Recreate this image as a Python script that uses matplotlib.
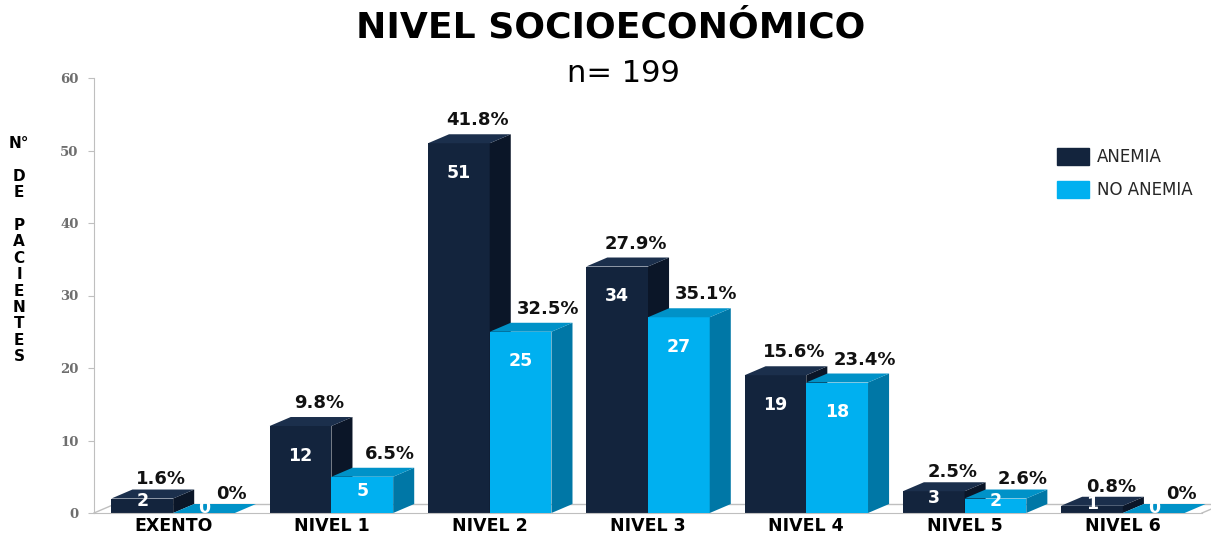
import matplotlib.pyplot as plt
from matplotlib.patches import Polygon, Patch

categorias = ["EXENTO", "NIVEL 1", "NIVEL 2", "NIVEL 3", "NIVEL 4", "NIVEL 5", "NIVEL 6"]
anemia = [2, 12, 51, 34, 19, 3, 1]
no_anemia = [0, 5, 25, 27, 18, 2, 0]
pct_anemia = ["1.6%", "9.8%", "41.8%", "27.9%", "15.6%", "2.5%", "0.8%"]
pct_no_anemia = ["0%", "6.5%", "32.5%", "35.1%", "23.4%", "2.6%", "0%"]

# colores: frente, lado, techo
col_anemia = ("#13243d", "#0b1628", "#1b2f4c")
col_no_anemia = ("#00b0f0", "#0077a6", "#0092c8")

W = 0.39      # ancho de cada barra
DX = 0.133    # profundidad en x (unidades de datos)
DY = 1.24     # profundidad en y

fig = plt.figure(figsize=(12.11, 5.37), dpi=100)
ax = fig.add_axes([94 / 1211, 24 / 537, 1108 / 1211, 435 / 537])


def barra_3d(x0, h, cols, z):
    ax.bar(x0, h, width=W, align="edge", color=cols[0], zorder=z, linewidth=0)
    lado = [(x0 + W, 0), (x0 + W + DX, DY), (x0 + W + DX, h + DY), (x0 + W, h)]
    techo = [(x0, h), (x0 + W, h), (x0 + W + DX, h + DY), (x0 + DX, h + DY)]
    ax.add_patch(Polygon(lado, closed=True, color=cols[1], zorder=z, lw=0, clip_on=False))
    ax.add_patch(Polygon(techo, closed=True, color=cols[2], zorder=z, lw=0, clip_on=False))


def etiquetas(x0, v, pct, desp):
    yv = v - 4.1 if v >= 8 else v * 0.45 + 0.75
    yp = v + DY + 1.9 if v >= 5 else v + DY + 1.4
    ax.text(x0 + W / 2, yv, str(v), color="white", fontsize=12.5, fontweight="bold",
            ha="center", va="center", zorder=10)
    ax.text(x0 + W / 2 + desp, yp, pct, color="#111111", fontsize=13,
            fontweight="bold", ha="center", va="center", zorder=10)


# piso de la grafica
gris = "#bfbfbf"
ax.plot([-0.5, -0.5 + DX], [0, DY], color=gris, lw=1, zorder=1, clip_on=False)
ax.plot([-0.5 + DX, 6.5 + DX], [DY, DY], color=gris, lw=1, zorder=1, clip_on=False)
ax.plot([6.5, 6.5 + DX], [0, DY], color=gris, lw=1, zorder=1, clip_on=False)

for i in range(len(categorias)):
    barra_3d(i - W, anemia[i], col_anemia, 2)
    barra_3d(i, no_anemia[i], col_no_anemia, 3)
    etiquetas(i - W, anemia[i], pct_anemia[i], DX * 0.9)
    etiquetas(i, no_anemia[i], pct_no_anemia[i], DX * 1.3)

ax.set_xlim(-0.5, 6.5)
ax.set_ylim(0, 60)
ax.set_yticks(range(0, 61, 10))
ax.set_xticks(range(len(categorias)))
ax.set_xticklabels(categorias, fontsize=12.5, fontweight="bold")
ax.tick_params(axis="x", length=0, pad=3)
ax.tick_params(axis="y", length=4, color=gris, pad=7, labelsize=9.5, labelcolor="#6e6e6e")
for t in ax.get_yticklabels():
    t.set_fontfamily("DejaVu Serif")
    t.set_fontweight("bold")
for s in ["top", "right"]:
    ax.spines[s].set_visible(False)
for s in ["left", "bottom"]:
    ax.spines[s].set_color(gris)

fig.text(0.504, 1 - 28 / 537, "NIVEL SOCIOECONÓMICO", fontsize=26, fontweight="bold",
         ha="center", va="center")
fig.text(0.515, 1 - 74 / 537, "n= 199", fontsize=22, ha="center", va="center")
fig.text(19 / 1211, 1 - 250 / 537, "N°\n\nD\nE\n\nP\nA\nC\nI\nE\nN\nT\nE\nS",
         fontsize=11, fontweight="bold", ha="center", va="center", linespacing=1.12)

handles = [Patch(color=col_anemia[0], label="ANEMIA"),
           Patch(color=col_no_anemia[0], label="NO ANEMIA")]
leg = fig.legend(handles=handles, loc="upper left", bbox_to_anchor=(1049 / 1211, 1 - 140 / 537),
                 fontsize=12, frameon=False, handlelength=1.9, handleheight=1.2,
                 labelspacing=0.85, handletextpad=0.5, borderpad=0)
for t in leg.get_texts():
    t.set_color("#262626")

fig.savefig("out.png", dpi=100)
